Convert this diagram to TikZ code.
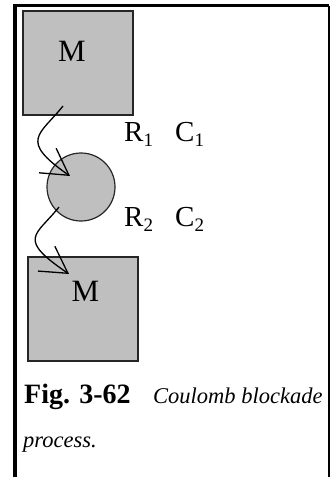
\documentclass[tikz,border=0pt]{standalone}
\usepackage{fontspec}
\setmainfont{Liberation Serif}
\usetikzlibrary{arrows.meta}

\newcommand{\bigtxt}{\fontsize{31}{31}\selectfont}
\newcommand{\labtxt}{\fontsize{29}{29}\selectfont}
\newcommand{\subtxt}[1]{\raisebox{-5pt}{\fontsize{19}{19}\selectfont #1}}

\begin{document}
\begin{tikzpicture}[x=1pt,y=-1pt,
    metal/.style={draw=black!85, fill=black!25, line width=1.2pt, inner sep=0pt,
                  minimum width=110pt, minimum height=104pt},
    dot/.style={circle, draw=black!85, fill=black!25, line width=1.2pt, inner sep=0pt,
                minimum size=68pt},
    hop/.style={line width=1.3pt, -{Straight Barb[length=26pt,width=30pt,line width=1.3pt]}},
    txt/.style={inner sep=0pt, anchor=base west}]

    \useasboundingbox (0,0) rectangle (330,477);

    % Frame
    \draw[line width=3.5pt] (15,477) -- (15,5.5);
    \draw[line width=3pt] (13.25,5.5) -- (329,5.5);
    \draw[line width=2pt] (328.5,5.5) -- (328.5,477);

    % Electrodes and island
    \node[metal] (mtop) at (78,63) {};
    \node[metal] (mbot) at (83,309) {};
    \node[dot] (isl) at (81,187) {};

    % Labels
    \node[inner sep=0pt, anchor=base] (mtoplab) at (72,61) {\bigtxt M};
    \node[inner sep=0pt, anchor=base] (mbotlab) at (85.5,301) {\bigtxt M};
    \node[txt] (r1) at (124,141) {\labtxt R\subtxt{1}};
    \node[txt] (c1) at (175,141) {\labtxt C\subtxt{1}};
    \node[txt] (r2) at (124,226) {\labtxt R\subtxt{2}};
    \node[txt] (c2) at (175,226) {\labtxt C\subtxt{2}};

    % Tunnelling paths
    \coordinate (s1) at (63,106);
    \coordinate (e1) at (70,176);
    \coordinate (s2) at (59,207);
    \coordinate (e2) at (69,274);
    \draw[hop] (s1) .. controls (40,135) and (18,140) .. (e1);
    \draw[hop] (s2) .. controls (36,236) and (16,238) .. (e2);

    % Caption
    \node[txt] (fig) at (24,403) {\fontsize{28}{28}\selectfont\bfseries Fig. 3-62};
    \node[txt] (cap1) at (153,403) {\fontsize{22.5}{22.5}\selectfont\itshape Coulomb blockade};
    \node[txt] (cap2) at (23,447) {\fontsize{22.5}{22.5}\selectfont\itshape process.};

\end{tikzpicture}
\end{document}
